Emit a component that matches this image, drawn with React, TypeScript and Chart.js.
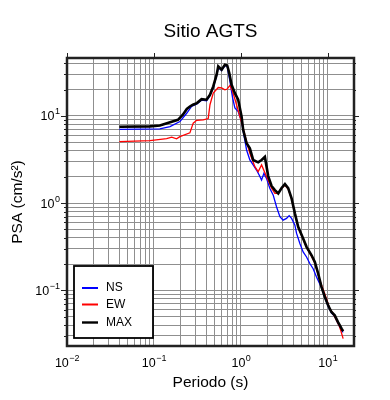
import React, { useEffect, useRef } from 'react';
import { Chart, registerables } from 'chart.js';

Chart.register(...registerables);

const FONT = "'Liberation Sans', Arial, Helvetica, sans-serif";

const chartTitle = 'Sitio AGTS';
const xAxisTitle = 'Periodo (s)';
const yAxisTitle = 'PSA (cm/s²)';
const seriesLabels = ['NS', 'EW', 'MAX'];
const seriesColors = ['#0000ff', '#ff0000', '#000000'];
const seriesWidths = [1.3, 1.3, 2.6];

const xMin = 0.01;
const xMax = 20;
const yMin = 0.023;
const yMax = 46;

const xGridValues = [
  0.01, 0.02, 0.03, 0.04, 0.05, 0.06, 0.07, 0.08, 0.09,
  0.1, 0.2, 0.3, 0.4, 0.5, 0.6, 0.7, 0.8, 0.9,
  1, 2, 3, 4, 5, 6, 7, 8, 9,
  10, 20,
];
const yGridValues = [
  0.03, 0.04, 0.05, 0.06, 0.07, 0.08, 0.09,
  0.1, 0.2, 0.3, 0.4, 0.5, 0.6, 0.7, 0.8, 0.9,
  1, 2, 3, 4, 5, 6, 7, 8, 9,
  10, 20, 30, 40,
];
const tickBase = '10';
const xTickValues = [0.01, 0.1, 1, 10];
const xTickExponents = ['−2', '−1', '0', '1'];
const yTickValues = [0.1, 1, 10];
const yTickExponents = ['−1', '0', '1'];

// NS component
const nsPeriods = [
  0.04, 0.117, 0.153, 0.199, 0.238, 0.271, 0.312, 0.353, 0.403, 0.441, 0.481,
  0.526, 0.549, 0.6, 0.655, 0.696, 0.748, 0.804, 0.853, 0.931, 1.019, 1.062,
  1.163, 1.268, 1.384, 1.513, 1.622, 1.729, 1.84, 1.97, 2.15, 2.35, 2.57, 2.81,
  3.06, 3.35, 3.59, 3.83, 4.18, 4.37, 4.77, 5.2, 5.69, 6.21, 6.78, 7.41, 8.47,
  9.25, 10.08, 11.0, 12.0, 13.1, 14.4, 15.0,
];
const nsPSA = [
  7.0, 7.1, 7.53, 8.6, 10.7, 12.8, 13.7, 15.1, 14.9, 17.0, 21.0,
  28.9, 35.5, 33.0, 37.6, 37.0, 24.8, 16.0, 12.3, 11.2, 8.6, 6.7,
  4.06, 3.12, 2.74, 2.39, 2.1, 1.84, 2.19, 1.92, 1.48, 1.24, 0.907, 0.697,
  0.638, 0.667, 0.718, 0.667, 0.558, 0.449, 0.344, 0.275, 0.241, 0.203, 0.177, 0.142, 0.107,
  0.082, 0.0656, 0.0552, 0.0502, 0.0417, 0.0347, 0.033,
];

// EW component
const ewPeriods = [
  0.04, 0.09, 0.14, 0.16, 0.182, 0.199, 0.259, 0.283, 0.31, 0.369, 0.421,
  0.441, 0.481, 0.549, 0.6, 0.655, 0.696, 0.748, 0.804, 0.892, 0.974, 1.062,
  1.163, 1.268, 1.449, 1.58, 1.729, 1.97, 2.255, 2.46, 2.69, 2.81, 3.21, 3.5,
  3.83, 4.18, 4.56, 5.2, 5.69, 6.5, 7.09, 8.09, 9.66, 10.5, 11.5, 12.6, 13.7, 15.0,
];
const ewPSA = [
  5.07, 5.2, 5.48, 5.69, 5.44, 5.78, 6.38, 8.24, 8.88, 9.0, 9.3,
  13.4, 18.2, 21.1, 20.9, 19.9, 20.3, 22.3, 19.0, 13.4, 9.8, 7.23,
  5.07, 3.72, 2.61, 2.29, 2.74, 2.01, 1.48, 1.29, 1.29, 1.41, 1.61, 1.45,
  1.11, 0.75, 0.524, 0.386, 0.31, 0.245, 0.204, 0.13, 0.0803, 0.0617, 0.054, 0.0452, 0.0379, 0.0279,
];

// MAX
const maxPeriods = [
  0.04, 0.09, 0.117, 0.141, 0.189, 0.215, 0.239, 0.259, 0.281, 0.312, 0.353,
  0.403, 0.441, 0.481, 0.526, 0.549, 0.6, 0.655, 0.696, 0.734, 0.782, 0.853,
  0.931, 1.019, 1.062, 1.163, 1.268, 1.384, 1.58, 1.729, 1.888, 2.061, 2.255,
  2.46, 2.69, 2.94, 3.21, 3.5, 3.83, 4.18, 4.56, 5.2, 5.69, 6.5, 7.09, 7.74,
  8.47, 9.25, 10.08, 11.0, 12.0, 13.1, 14.4, 15.0,
];
const maxPSA = [
  7.48, 7.57, 7.73, 8.24, 9.0, 10.3, 12.0, 12.8, 13.4, 14.0, 15.5,
  15.3, 17.4, 21.7, 29.6, 36.9, 33.8, 38.5, 37.8, 31.2, 22.7, 18.2,
  15.3, 9.8, 6.9, 4.85, 4.25, 3.12, 2.93, 3.12, 3.38, 2.04, 1.57,
  1.41, 1.29, 1.49, 1.65, 1.48, 1.13, 0.762, 0.535, 0.393, 0.315, 0.252, 0.211, 0.156,
  0.109, 0.0838, 0.0673, 0.0564, 0.0516, 0.0432, 0.0363, 0.034,
];

const seriesPeriods = [nsPeriods, ewPeriods, maxPeriods];
const seriesValues = [nsPSA, ewPSA, maxPSA];

const isPow10 = (v: number) => Math.abs(Math.log10(v) - Math.round(Math.log10(v))) < 1e-9;

const BASE_FONT = `12.5px ${FONT}`;
const EXP_FONT = `9px ${FONT}`;

const decorPlugin = {
  id: 'decor',
  afterDraw(chart: any) {
    const { ctx, chartArea: a, scales } = chart;
    const xs = scales.x;
    const ys = scales.y;
    ctx.save();
    // title
    ctx.fillStyle = '#000';
    ctx.font = `19px ${FONT}`;
    ctx.textAlign = 'center';
    ctx.textBaseline = 'middle';
    ctx.fillText(chartTitle, (a.left + a.right) / 2, 32);

    // tick labels with superscript exponents
    ctx.textAlign = 'left';
    ctx.textBaseline = 'middle';
    xTickValues.forEach((v, i) => {
      const px = xs.getPixelForValue(v);
      ctx.font = BASE_FONT;
      const wb = ctx.measureText(tickBase).width;
      ctx.font = EXP_FONT;
      const we = ctx.measureText(xTickExponents[i]).width;
      const x0 = px - (wb + we) / 2;
      const y0 = a.bottom + 18;
      ctx.font = BASE_FONT;
      ctx.fillText(tickBase, x0, y0);
      ctx.font = EXP_FONT;
      ctx.fillText(xTickExponents[i], x0 + wb + 0.5, y0 - 5);
    });
    yTickValues.forEach((v, i) => {
      const py = ys.getPixelForValue(v);
      ctx.font = BASE_FONT;
      const wb = ctx.measureText(tickBase).width;
      ctx.font = EXP_FONT;
      const we = ctx.measureText(yTickExponents[i]).width;
      const xr = a.left - 7;
      ctx.font = BASE_FONT;
      ctx.fillText(tickBase, xr - we - 0.5 - wb, py + 1);
      ctx.font = EXP_FONT;
      ctx.fillText(yTickExponents[i], xr - we, py - 4);
    });

    // tick marks
    ctx.strokeStyle = '#222';
    ctx.lineWidth = 1;
    ctx.beginPath();
    for (const v of xGridValues) {
      if (!isPow10(v)) continue;
      const px = Math.round(xs.getPixelForValue(v)) + 0.5;
      ctx.moveTo(px, a.top);
      ctx.lineTo(px, a.top - 5);
    }
    for (const v of yGridValues) {
      const major = isPow10(v);
      const py = Math.round(ys.getPixelForValue(v)) + 0.5;
      ctx.moveTo(a.left, py);
      ctx.lineTo(a.left - (major ? 6 : 3), py);
      ctx.moveTo(a.right, py);
      ctx.lineTo(a.right + (major ? 5 : 2), py);
    }
    ctx.stroke();

    // frame
    ctx.lineWidth = 2.5;
    ctx.strokeStyle = '#222';
    ctx.strokeRect(a.left, a.top, a.right - a.left, a.bottom - a.top);

    // legend
    const bx = a.left + 7;
    const by = a.bottom - 80;
    const bw = 79;
    const bh = 72;
    ctx.fillStyle = '#fff';
    ctx.fillRect(bx, by, bw, bh);
    ctx.lineWidth = 1.8;
    ctx.strokeStyle = '#000';
    ctx.strokeRect(bx, by, bw, bh);
    const rows = [22, 38.5, 56.5];
    ctx.font = `12px ${FONT}`;
    ctx.textAlign = 'left';
    ctx.textBaseline = 'middle';
    chart.data.datasets.forEach((ds: any, i: number) => {
      const y = by + rows[i];
      ctx.beginPath();
      ctx.strokeStyle = ds.borderColor;
      ctx.lineWidth = i === 2 ? 2.4 : 2;
      ctx.moveTo(bx + 8, y);
      ctx.lineTo(bx + 24, y);
      ctx.stroke();
      ctx.fillStyle = '#000';
      ctx.fillText(ds.label, bx + 32, y);
    });
    ctx.restore();
  },
};

export default function App() {
  const ref = useRef<HTMLCanvasElement | null>(null);
  useEffect(() => {
    if (!ref.current) return;
    const datasets = seriesLabels.map((label, i) => ({
      label,
      data: seriesPeriods[i].map((t, j) => ({ x: t, y: seriesValues[i][j] })),
      borderColor: seriesColors[i],
      backgroundColor: seriesColors[i],
      borderWidth: seriesWidths[i],
      pointRadius: 0,
      tension: 0,
      fill: false,
      order: i === 2 ? 0 : i === 1 ? 1 : 2,
    }));
    const chart = new Chart(ref.current, {
      type: 'line',
      data: { datasets },
      plugins: [decorPlugin],
      options: {
        responsive: false,
        animation: false,
        events: [],
        layout: { padding: { top: 58, right: 36, left: 0, bottom: 0 } },
        plugins: {
          legend: { display: false },
          title: { display: false },
          tooltip: { enabled: false },
        },
        scales: {
          x: {
            type: 'logarithmic',
            position: 'bottom',
            min: xMin,
            max: xMax,
            afterBuildTicks: (s: any) => {
              s.ticks = xGridValues.map((v) => ({ value: v, major: isPow10(v) }));
            },
            afterFit: (s: any) => {
              s.height = 54;
            },
            grid: { color: '#8f8f8f', lineWidth: 1, drawTicks: false },
            border: { display: false },
            ticks: { display: false, autoSkip: false },
            title: {
              display: true,
              text: xAxisTitle,
              color: '#000',
              font: { family: FONT, size: 15.5 },
              padding: { top: 0, bottom: 8 },
            },
          },
          y: {
            type: 'logarithmic',
            position: 'left',
            min: yMin,
            max: yMax,
            afterBuildTicks: (s: any) => {
              s.ticks = yGridValues.map((v) => ({ value: v, major: isPow10(v) }));
            },
            afterFit: (s: any) => {
              s.width = 67;
            },
            grid: { color: '#8f8f8f', lineWidth: 1, drawTicks: false },
            border: { display: false },
            ticks: { display: false, autoSkip: false },
            title: {
              display: true,
              text: yAxisTitle,
              color: '#000',
              font: { family: FONT, size: 15.5 },
              padding: { top: 8, bottom: 0 },
            },
          },
        },
      },
    });
    return () => chart.destroy();
  }, []);
  return (
    <div style={{ position: 'absolute', left: 0, top: 0, width: 390, height: 400, background: '#fff' }}>
      <canvas ref={ref} width={390} height={400} style={{ width: 390, height: 400, display: 'block' }} />
    </div>
  );
}
